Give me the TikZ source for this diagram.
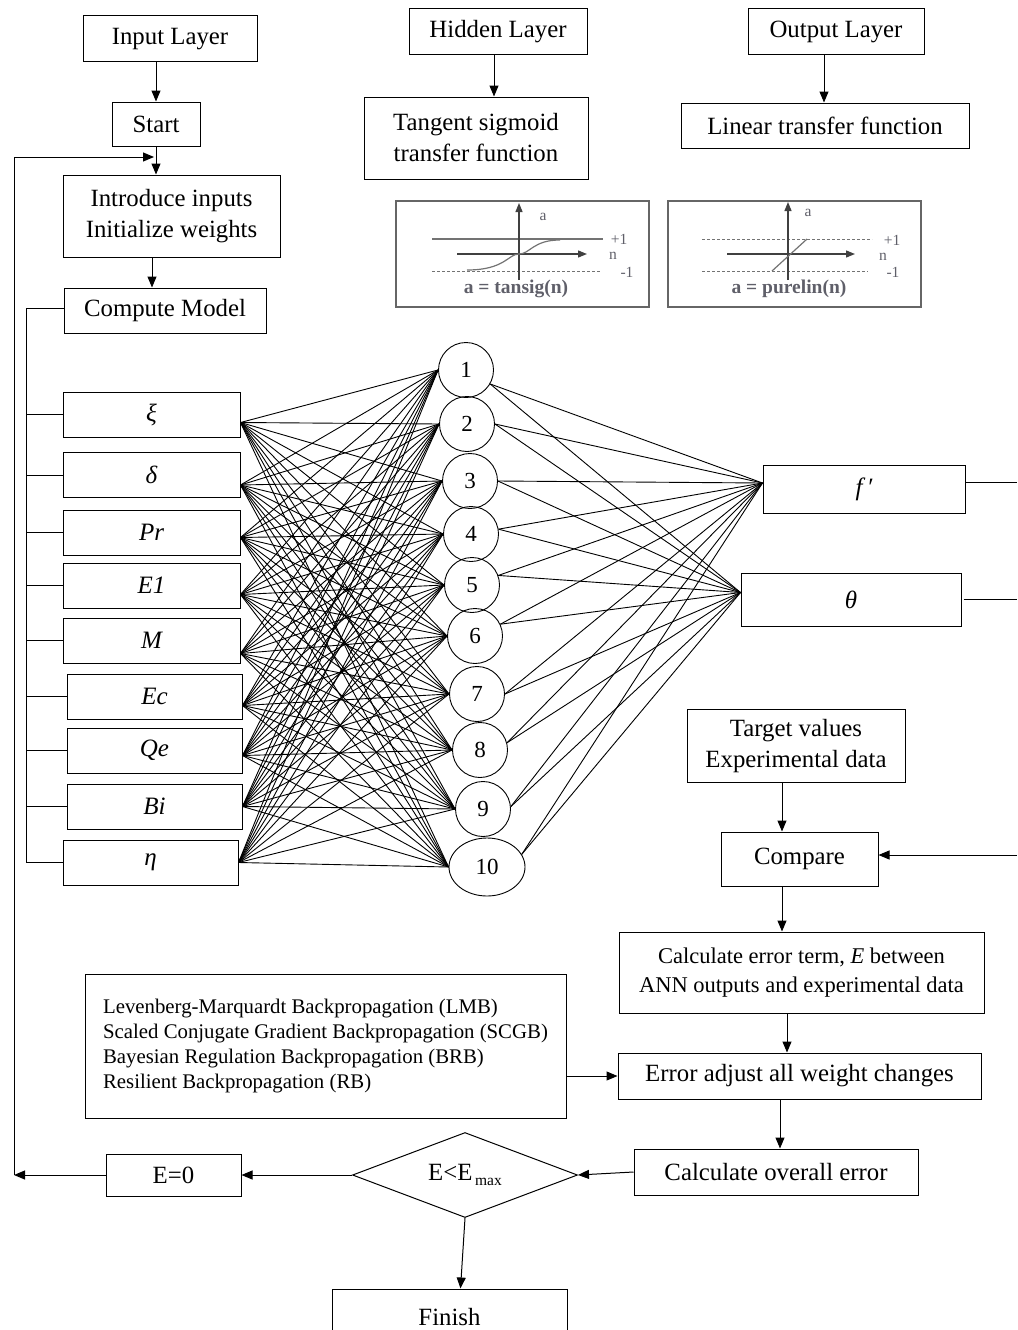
\documentclass[tikz,border=0pt]{standalone}
\usepackage{fontspec}
\setmainfont{Liberation Serif}
\usetikzlibrary{arrows.meta,shapes.geometric,calc}
\newcommand\fA{\fontsize{24.8}{31}\selectfont}
\newcommand\fB{\fontsize{22.5}{29}\selectfont}
\newcommand\fC{\fontsize{20.8}{25.3}\selectfont}
\newcommand\fN{\fontsize{23}{26}\selectfont}
\newcommand\fI{\fontsize{25}{28}\selectfont\itshape}
\newcommand\fP{\fontsize{15.5}{17}\selectfont}
\newcommand\fQ{\fontsize{19.5}{21}\selectfont\bfseries}
\definecolor{plotgray}{RGB}{95,95,105}
\begin{document}
\begin{tikzpicture}[x=1pt,y=-1pt,
 box/.style={draw, line width=1pt, inner sep=0pt, align=center, font=\fA},
 inbox/.style={draw, line width=1pt, inner sep=0pt, minimum width=177pt, minimum height=45pt, font=\fI},
 neur/.style={draw, circle, line width=0.9pt, inner sep=0pt, minimum size=55pt, font=\fN},
 net/.style={line width=0.9pt},
 ln/.style={line width=1pt},
 arr/.style={line width=1pt, -{Triangle[length=11pt,width=9pt]}},
 plab/.style={font=\fP, text=plotgray, inner sep=0pt},
 pax/.style={line width=1.3pt, black!75, -{Triangle[length=9pt,width=7pt]}},
]
\useasboundingbox (0,0) rectangle (1017,1330);
\clip (0,0) rectangle (1017,1330);

% ---------- top left flow
\node[box, minimum width=174pt, minimum height=46pt] (il) at (170,39) {Input Layer};
\node[box, minimum width=88pt, minimum height=44pt] (st) at (156,124) {Start};
\node[box, minimum width=217pt, minimum height=82pt] (ii) at (171.5,216) {Introduce inputs\\Initialize weights};
\node[box, minimum width=202pt, minimum height=45pt] (cm) at (165,310.5) {Compute Model};

% ---------- top middle / right
\node[box, minimum width=178pt, minimum height=46pt] (hl) at (498,32) {Hidden Layer};
\node[box, minimum width=224pt, minimum height=82pt] (tg) at (476,138) {Tangent sigmoid\\transfer function};
\node[box, minimum width=176pt, minimum height=46pt] (ol) at (836,32) {Output Layer};
\node[box, minimum width=288pt, minimum height=45pt] (lt) at (825,125.5) {Linear transfer function};

% ---------- plots
\draw[line width=2.6pt, black!60] (396,201) rectangle (649,307);
\draw[line width=1.5pt, black!55] (432,239) -- (603,239);
\draw[line width=0.8pt, black!55, dashed, dash pattern=on 3pt off 2pt] (432,271) -- (600,271);
\draw[pax] (457,254) -- (587,254);
\draw[pax] (519,280) -- (519,203);
\draw[line width=1.2pt, black!55] (467,270) .. controls (505,270) and (508,254) .. (519,254) .. controls (530,254) and (533,240) .. (560,240);
\node[plab] (ta) at (543,217) {a};
\node[plab] (tp) at (619,239) {+1};
\node[plab] (tn) at (613,256) {n};
\node[plab] (tm) at (627,272) {-1};
\node[plab, font=\fQ] (tt) at (516,289) {a = tansig(n)};

\draw[line width=2.6pt, black!60] (668,201) rectangle (921,307);
\draw[line width=0.8pt, black!55, dashed, dash pattern=on 3pt off 2pt] (702,239) -- (872,239);
\draw[line width=0.8pt, black!55, dashed, dash pattern=on 3pt off 2pt] (702,271) -- (868,271);
\draw[pax] (727,254) -- (855,254);
\draw[pax] (788,280) -- (788,202);
\draw[line width=1.2pt, black!55] (772,271) -- (807,239);
\node[plab] (pa) at (808,213) {a};
\node[plab] (pp) at (892,240) {+1};
\node[plab] (pn) at (883,257) {n};
\node[plab] (pm) at (893,272) {-1};
\node[plab, font=\fQ] (pt) at (789,289) {a = purelin(n)};

% ---------- input boxes
\node[inbox] (in1) at (151.5,414.5) {ξ};
\node[inbox] (in2) at (151.5,475) {δ};
\node[inbox] (in3) at (151.5,532.5) {Pr};
\node[inbox] (in4) at (151.5,585.5) {E1};
\node[inbox] (in5) at (151.5,640.5) {M};
\node[inbox, minimum width=175pt] (in6) at (154.5,696.5) {Ec};
\node[inbox, minimum width=175pt] (in7) at (154.5,750.5) {Qe};
\node[inbox, minimum width=175pt] (in8) at (154.5,806.5) {Bi};
\node[inbox, minimum width=175pt] (in9) at (150.5,862.5) {η};

% ---------- hidden neurons
\foreach \j/\x/\y in {1/466/370,2/467/424,3/470/481,4/471/534,5/472/585,6/475/636,7/477/694,8/480/750,9/483/809}
  \node[neur] (h\j) at (\x,\y) {\j};
\node[neur, ellipse, minimum width=76pt, minimum height=58pt] (h10) at (487,867) {10};

% ---------- outputs
\node[box, minimum width=202pt, minimum height=48pt, font=\fI] (fp) at (864,489) {f\,′};
\node[box, minimum width=220pt, minimum height=53pt, font=\fI] (th) at (851,599.5) {θ};

% ---------- right flow
\node[box, minimum width=218pt, minimum height=73pt] (tv) at (796,746) {Target values\\Experimental data};
\node[box, minimum width=157pt, minimum height=54pt] (cmp) at (799.5,859) {Compare};
\node[box, minimum width=365pt, minimum height=81pt, font=\fB] (ce) at (801.5,972.5) {Calculate error term, \textit{E} between\\ANN outputs and experimental data};
\node[box, minimum width=363pt, minimum height=46pt] (ea) at (799.5,1076) {Error adjust all weight changes};
\node[box, minimum width=284pt, minimum height=46pt] (co) at (776,1172) {Calculate overall error};
\node[box, diamond, aspect=2.6, minimum width=225pt, minimum height=85pt] (dm) at (465,1175) {\raisebox{-3pt}{E<E}\raisebox{-8pt}{\fontsize{15.5}{15.5}\selectfont\,max}};
\node[box, minimum width=135pt, minimum height=42pt] (e0) at (173.5,1175) {E=0};
\node[box, minimum width=235pt, minimum height=56pt] (fin) at (449.5,1317) {Finish};
\node[box, minimum width=481pt, minimum height=144pt, align=left, font=\fC] (lm) at (325.5,1046) {Levenberg-Marquardt Backpropagation (LMB)\\Scaled Conjugate Gradient Backpropagation (SCGB)\\Bayesian Regulation Backpropagation (BRB)\\Resilient Backpropagation (RB)};

% ---------- network connections
\foreach \k/\s in {1/8pt,2/10pt,3/5pt,4/9pt,5/13pt,6/9pt,7/5pt,8/0pt,9/0pt}{
  \foreach \j in {1,...,10}{
    \draw[net] ([yshift=-\s]in\k.east) -- (h\j.west);
  }
}
\foreach \j/\a in {1/-30,2/0,3/0,4/10,5/20,6/25,7/0,8/15,9/5,10/20}{
  \draw[net] (h\j.\a) -- ([yshift=6pt]fp.west);
  \draw[net] (h\j.\a) -- ([yshift=7pt]th.west);
}
\coordinate (fpo) at (1017,482);
\draw[ln] (fp.east |- fpo) -- (fpo);
\coordinate (tho) at (1017,599);
\draw[ln] ([xshift=2pt]th.east |- tho) -- (tho);

% ---------- top arrows
\draw[arr] (st.north |- il.south) -- (st.north);
\draw[arr] (st.south) -- (st.south |- ii.north);
\draw[arr] ([xshift=-19.5pt]ii.south) -- ([xshift=-19.5pt]ii.south |- cm.north);
\draw[arr] ([xshift=-4pt]hl.south) -- ([xshift=-4pt]hl.south |- tg.north);
\draw[arr] ([xshift=-12pt]ol.south) -- ([xshift=-12pt]ol.south |- lt.north);

% ---------- input bus
\draw[ln] ([yshift=2pt]cm.west) -- ++(-37,0) coordinate (bus) |- (in9.west);
\foreach \k in {1,...,8} \draw[ln] (in\k.west) -- (in\k.west -| bus);

% ---------- outer loop
\coordinate (lp) at (14,157);
\draw[arr] (e0.west) -- (e0.west -| lp);
\draw[ln] (lp) -- (lp |- e0.west);
\draw[arr] (lp) -- ([xshift=-2pt]lp -| st.south);

% ---------- right flow arrows
\draw[arr] ([xshift=-14pt]tv.south) -- ([xshift=-14pt]tv.south |- cmp.north);
\coordinate (cr) at (1017,855);
\draw[arr] (cr) -- (cr -| cmp.east);
\draw[arr] ([xshift=-17.5pt]cmp.south) -- ([xshift=-17.5pt]cmp.south |- ce.north);
\draw[arr] ([xshift=-14.5pt]ce.south) -- ([xshift=-14.5pt]ce.south |- ea.north);
\draw[arr] (lm.east |- ea.west) -- (ea.west);
\draw[arr] ([xshift=-19.5pt]ea.south) -- ([xshift=-19.5pt]ea.south |- co.north);
\draw[arr] (co.west) -- (dm.east);
\draw[arr] (dm.west) -- (e0.east);
\draw[arr] (dm.south) -- ([xshift=11pt]fin.north);
\end{tikzpicture}
\end{document}
